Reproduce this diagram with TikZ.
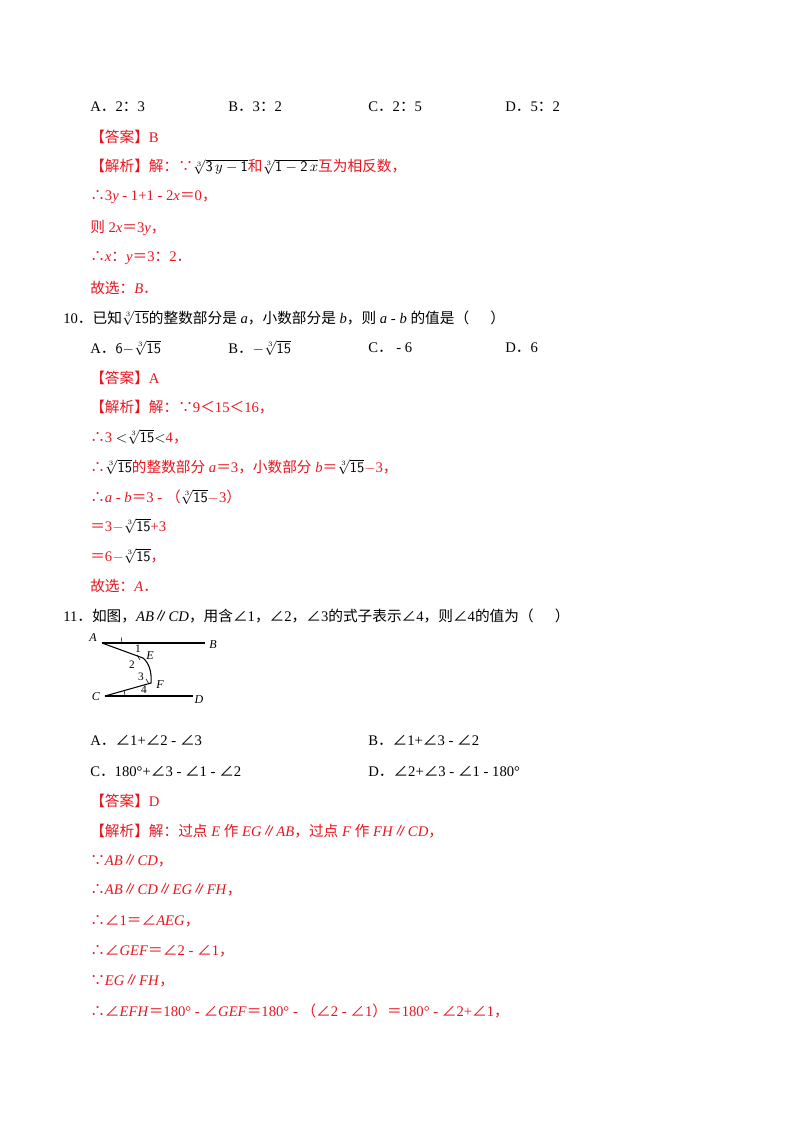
\documentclass[tikz,border=0pt]{standalone}
\usepackage{fontspec}
\setmainfont{Liberation Serif}
\newfontfamily\cjk{Noto Sans CJK SC}
\newcommand\zh[1]{{\cjk #1}}
\newcommand\rt{\ensuremath{\sqrt[3]{\mathsf{15}}}}
\definecolor{ans}{RGB}{232,20,30}
\begin{document}
\begin{tikzpicture}[x=0.75pt,y=-0.75pt,
  t/.style={anchor=west,inner sep=0pt,font=\fontsize{11pt}{12pt}\selectfont},
  r/.style={t,text=ans},
  lab/.style={inner sep=0pt,font=\itshape\fontsize{9pt}{10pt}\selectfont},
  num/.style={inner sep=0pt,font=\fontsize{8.5pt}{10pt}\selectfont}]
\useasboundingbox (0,0) rectangle (800,1132);
\node[t] (a1) at (90,107) {A\zh{．}2\zh{：}3};
\node[t] (b1) at (228,107) {B\zh{．}3\zh{：}2};
\node[t] (c1) at (368,107) {C\zh{．}2\zh{：}5};
\node[t] (d1) at (505,107) {D\zh{．}5\zh{：}2};
\node[r] (l1) at (90,137) {\zh{【答案】}B};
\node[r] (l2) at (90,167) {\zh{【解析】解：∵}{\color{black}$\sqrt[3]{\mathsf{3}\,y-\mathsf{1}}$}\zh{和}{\color{black}$\sqrt[3]{\mathsf{1}-\mathsf{2}\,x}$}\zh{互为相反数，}};
\node[r] (l3) at (90,197) {\zh{∴}3\textit{y} - 1+1 - 2\textit{x}\zh{＝}0\zh{，}};
\node[r] (l4) at (90,228) {\zh{则} 2\textit{x}\zh{＝}3\textit{y}\zh{，}};
\node[r] (l5) at (90,258) {\zh{∴}\textit{x}\zh{：}\textit{y}\zh{＝}3\zh{：}2\zh{．}};
\node[r] (l6) at (90,288) {\zh{故选：}\textit{B}\zh{．}};
\node[t] (q10) at (63,318) {10\zh{．已知}\rt\zh{的整数部分是} \textit{a}\zh{，小数部分是} \textit{b}\zh{，则} \textit{a} - \textit{b} \zh{的值是（\quad\ \ ）}};
\node[t] (a2) at (90,348) {A\zh{．}$\mathsf{6}-$\rt};
\node[t] (b2) at (228,348) {B\zh{．}$-$\rt};
\node[t] (c2) at (368,348) {C\zh{．} - 6};
\node[t] (d2) at (505,348) {D\zh{．}6};
\node[r] (m1) at (90,378) {\zh{【答案】}A};
\node[r] (m2) at (90,407) {\zh{【解析】解：∵}9\zh{＜}15\zh{＜}16\zh{，}};
\node[r] (m3) at (90,437) {\zh{∴}3 {\color{black}$<$\rt$<$}4\zh{，}};
\node[r] (m4) at (90,467) {\zh{∴}{\color{black}\rt}\zh{的整数部分} \textit{a}\zh{＝}3\zh{，小数部分} \textit{b}\zh{＝}{\color{black}\rt}$-$3\zh{，}};
\node[r] (m5) at (90,497) {\zh{∴}\textit{a} - \textit{b}\zh{＝}3 - \zh{（}{\color{black}\rt}$-$3\zh{）}};
\node[r] (m6) at (90,526) {\zh{＝}3$-${\color{black}\rt}+3};
\node[r] (m7) at (90,556) {\zh{＝}6$-${\color{black}\rt}\zh{，}};
\node[r] (m8) at (90,586) {\zh{故选：}\textit{A}\zh{．}};
\node[t] (q11) at (63,616) {11\zh{．如图，}\textit{AB}\zh{∥}\textit{CD}\zh{，用含∠}1\zh{，∠}2\zh{，∠}3\zh{的式子表示∠}4\zh{，则∠}4\zh{的值为（\quad\ \ ）}};
% figure
\coordinate (A) at (102,643);
\coordinate (B) at (205,643);
\coordinate (E) at (143,658);
\coordinate (F) at (151,683);
\coordinate (C) at (105,696);
\coordinate (D) at (193,696);
\draw[line width=0.8pt] (A) -- (B);
\draw[line width=0.8pt] (C) -- (D);
\draw[line width=0.8pt] (A) -- (E) .. controls (149,663) and (152,672) .. (F) -- (C);
\draw[thin] (122,643) arc (0:-16:20);
\draw[thin] (125,696) arc (0:-15:20) ;
\draw[thin] (137,655) -- (140,660);
\draw[thin] (146,679) -- (149,684);
\node[lab] (nA) at (93,638) {A};
\node[lab] (nB) at (213,645) {B};
\node[lab] (nE) at (150,656) {E};
\node[lab] (nF) at (160,685) {F};
\node[lab] (nC) at (96,697) {C};
\node[lab] (nD) at (199,700) {D};
\node[num] (n1) at (138,649) {1};
\node[num] (n2) at (132,665) {2};
\node[num] (n3) at (141,677) {3};
\node[num] (n4) at (144,690) {4};
\node[t] (a3) at (90,740) {A\zh{．∠}1+\zh{∠}2 - \zh{∠}3};
\node[t] (b3) at (368,740) {B\zh{．∠}1+\zh{∠}3 - \zh{∠}2};
\node[t] (c3) at (90,771) {C\zh{．}180°+\zh{∠}3 - \zh{∠}1 - \zh{∠}2};
\node[t] (d3) at (368,771) {D\zh{．∠}2+\zh{∠}3 - \zh{∠}1 - 180°};
\node[r] (k1) at (90,801) {\zh{【答案】}D};
\node[r] (k2) at (90,831) {\zh{【解析】解：过点} \textit{E} \zh{作} \textit{EG}\zh{∥}\textit{AB}\zh{，过点} \textit{F} \zh{作} \textit{FH}\zh{∥}\textit{CD}\zh{，}};
\node[r] (k3) at (90,861) {\zh{∵}\textit{AB}\zh{∥}\textit{CD}\zh{，}};
\node[r] (k4) at (90,890) {\zh{∴}\textit{AB}\zh{∥}\textit{CD}\zh{∥}\textit{EG}\zh{∥}\textit{FH}\zh{，}};
\node[r] (k5) at (90,921) {\zh{∴∠}1\zh{＝∠}\textit{AEG}\zh{，}};
\node[r] (k6) at (90,951) {\zh{∴∠}\textit{GEF}\zh{＝∠}2 - \zh{∠}1\zh{，}};
\node[r] (k7) at (90,981) {\zh{∵}\textit{EG}\zh{∥}\textit{FH}\zh{，}};
\node[r] (k8) at (90,1011) {\zh{∴∠}\textit{EFH}\zh{＝}180° - \zh{∠}\textit{GEF}\zh{＝}180° - \zh{（∠}2 - \zh{∠}1\zh{）＝}180° - \zh{∠}2+\zh{∠}1\zh{，}};
\end{tikzpicture}
\end{document}
